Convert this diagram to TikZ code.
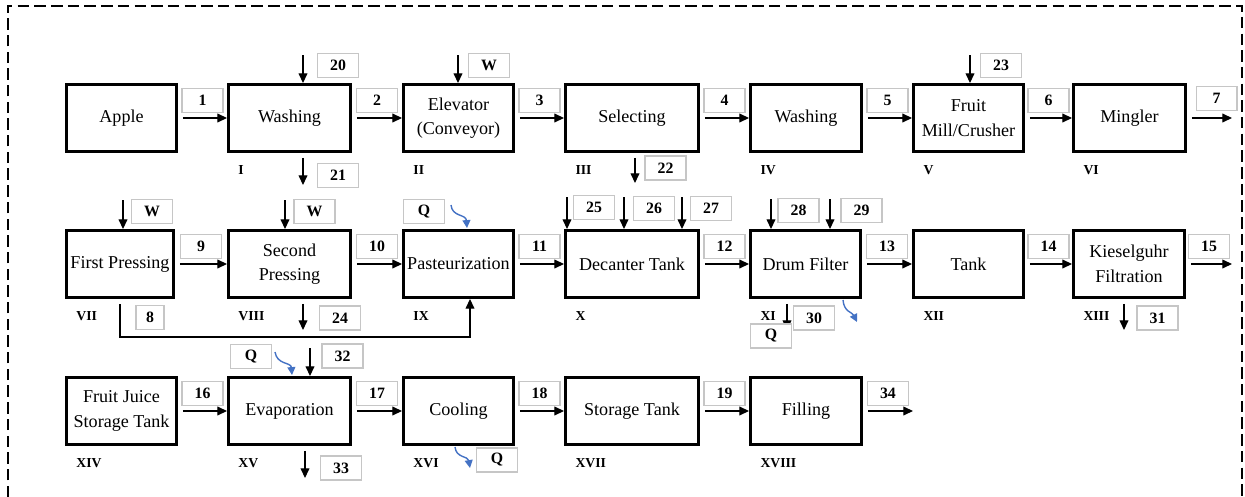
\documentclass[tikz,border=0pt]{standalone}
\usepackage{fontspec}
\setmainfont{Liberation Serif}
\usetikzlibrary{arrows.meta,positioning}
\definecolor{heatblue}{RGB}{68,114,196}

\tikzset{
  proc/.style={draw, line width=1.7pt, minimum height=1.34cm, align=center,
    inner sep=1pt, font=\fontsize{10.3}{14}\selectfont},
  tag/.style={draw=gray!45, line width=0.6pt, fill=white, minimum width=0.82cm,
    minimum height=0.48cm, inner sep=0pt, font=\bfseries\fontsize{9}{10}\selectfont},
  roman/.style={anchor=west, xshift=3pt, yshift=-9.5pt,
    font=\bfseries\fontsize{7.8}{8}\selectfont},
  flow/.style={-{Triangle[length=5.5pt,width=5pt]}, line width=0.7pt},
  heat/.style={-{Triangle[length=4.5pt,width=4.5pt]}, line width=0.8pt, heatblue},
}

\begin{document}
\begin{tikzpicture}[x=0.02cm, y=-0.02cm]
  \useasboundingbox (0,0) rectangle (1245,497);
  \def\rowA{118}
  \def\rowB{264}
  \def\rowC{411}
  % dashed frame
  \draw[line width=1pt, dash pattern=on 6.5pt off 3pt] (8,497) -- (8,6) -- (1242,6) -- (1242,497);

  % first row
  \node[proc, minimum width=2.2cm] (apple) at (121.5,\rowA) {Apple};
  \node[proc, minimum width=2.44cm] (wash1) at (289.5,\rowA) {Washing};
  \node[proc, minimum width=2.2cm] (elev) at (458.5,\rowA) {Elevator\\(Conveyor)};
  \node[proc, minimum width=2.66cm] (select) at (632,\rowA) {Selecting};
  \node[proc, minimum width=2.22cm] (wash2) at (806,\rowA) {Washing};
  \node[proc, minimum width=2.2cm] (mill) at (968.5,\rowA) {Fruit\\Mill/Crusher};
  \node[proc, minimum width=2.24cm] (mingler) at (1129.5,\rowA) {Mingler};
  \coordinate (out7) at (1232,\rowA);

  % second row
  \node[proc, minimum width=2.14cm] (press1) at (120,\rowB) {First Pressing};
  \node[proc, minimum width=2.44cm] (press2) at (289.5,\rowB) {Second\\Pressing};
  \node[proc, minimum width=2.2cm] (pas) at (458.5,\rowB) {Pasteurization};
  \node[proc, minimum width=2.66cm] (decant) at (632,\rowB) {Decanter Tank};
  \node[proc, minimum width=2.2cm] (drum) at (805.5,\rowB) {Drum Filter};
  \node[proc, minimum width=2.2cm] (tank) at (968.5,\rowB) {Tank};
  \node[proc, minimum width=2.22cm] (kiesel) at (1129,\rowB) {Kieselguhr\\Filtration};
  \coordinate (out15) at (1232,\rowB);

  % third row
  \node[proc, minimum width=2.2cm] (juice) at (121.5,\rowC) {Fruit Juice\\Storage Tank};
  \node[proc, minimum width=2.44cm] (evap) at (289.5,\rowC) {Evaporation};
  \node[proc, minimum width=2.2cm] (cool) at (458.5,\rowC) {Cooling};
  \node[proc, minimum width=2.66cm] (store) at (632,\rowC) {Storage Tank};
  \node[proc, minimum width=2.22cm] (fill) at (806,\rowC) {Filling};
  \coordinate (out34) at (913,\rowC);

  % unit numbers
  \foreach \blk/\num in {wash1/I, elev/II, select/III, wash2/IV, mill/V, mingler/VI,
      press1/VII, press2/VIII, pas/IX, decant/X, drum/XI, tank/XII, kiesel/XIII,
      juice/XIV, evap/XV, cool/XVI, store/XVII, fill/XVIII}
    \node[roman] (n-\blk) at (\blk.south west) {\num};

  % main streams
  \draw[flow, shorten <=2.8pt] (apple) -- (wash1) node[tag, midway, above=3pt] (t1) {1};
  \draw[flow, shorten <=2.8pt] (wash1) -- (elev) node[tag, midway, above=3pt] (t2) {2};
  \draw[flow, shorten <=2.8pt] (elev) -- (select) node[tag, midway, above=3pt] (t3) {3};
  \draw[flow, shorten <=2.8pt] (select) -- (wash2) node[tag, midway, above=3pt] (t4) {4};
  \draw[flow, shorten <=2.8pt] (wash2) -- (mill) node[tag, midway, above=3pt] (t5) {5};
  \draw[flow, shorten <=2.8pt] (mill) -- (mingler) node[tag, midway, above=3pt] (t6) {6};
  \draw[flow, shorten <=2.8pt] (mingler) -- (out7) node[tag, midway, above=4pt, xshift=4pt] (t7) {7};
  \draw[flow, shorten <=2.8pt] (press1) -- (press2) node[tag, midway, above=3pt] (t9) {9};
  \draw[flow, shorten <=2.8pt] (press2) -- (pas) node[tag, midway, above=3pt] (t10) {10};
  \draw[flow, shorten <=2.8pt] (pas) -- (decant) node[tag, midway, above=3pt] (t11) {11};
  \draw[flow, shorten <=2.8pt] (decant) -- (drum) node[tag, midway, above=3pt] (t12) {12};
  \draw[flow, shorten <=2.8pt] (drum) -- (tank) node[tag, midway, above=3pt] (t13) {13};
  \draw[flow, shorten <=2.8pt] (tank) -- (kiesel) node[tag, midway, above=3pt] (t14) {14};
  \draw[flow, shorten <=2.8pt] (kiesel) -- (out15) node[tag, midway, above=3pt] (t15) {15};
  \draw[flow, shorten <=2.8pt] (juice) -- (evap) node[tag, midway, above=3pt] (t16) {16};
  \draw[flow, shorten <=2.8pt] (evap) -- (cool) node[tag, midway, above=3pt] (t17) {17};
  \draw[flow, shorten <=2.8pt] (cool) -- (store) node[tag, midway, above=3pt] (t18) {18};
  \draw[flow, shorten <=2.8pt] (store) -- (fill) node[tag, midway, above=3pt] (t19) {19};
  \draw[flow, shorten <=2.8pt] (fill) -- (out34) node[tag, midway, above=3pt] (t34) {34};

  % return stream from first pressing
  \coordinate (ret8) at (470,337);
  \draw[flow, shorten <=3pt] (press1.south) |- (ret8) -- (ret8 |- pas.south);
  \node[tag, minimum width=0.56cm] (t8) at (150,317.5) {8};

  % feeds from above
  \foreach \blk/\x/\ys/\lab/\lx/\ly [count=\i] in {wash1/303/55/20/338/65.5,
      elev/458/55/W/489/65.5, mill/970/55/23/1001/65.5,
      press1/123/200/W/152/211.5, press2/285/200/W/314.5/211.5,
      decant/567/197/25/594/207.5, decant/624/197/26/654/208.5,
      decant/682/197/27/711/208.5, drum/771/199/28/798.5/210.5,
      drum/830/199/29/861.5/210.5, evap/310/348/32/342.5/356} {
    \coordinate (in\i) at (\x,\ys);
    \draw[flow] (in\i) -- (in\i |- \blk.north);
    \node[tag] (f\i) at (\lx,\ly) {\lab};
  }

  % draw-offs below
  \foreach \blk/\x/\ye/\lab/\lx/\ly [count=\i] in {wash1/303/185/21/338/175.5,
      select/635/183/22/665.5/168, press2/303/330/24/340/318,
      drum/787/330/30/814/318, kiesel/1124/330/31/1157.5/318,
      evap/305/478/33/341/468} {
    \coordinate (out\i) at (\x,\ye);
    \draw[flow, shorten <=2.8pt] (out\i |- \blk.south) -- (out\i);
    \node[tag] (d\i) at (\lx,\ly) {\lab};
  }

  % heat
  \node[tag] (qP) at (424,211.5) {Q};
  \node[tag] (qD) at (771,336) {Q};
  \node[tag] (qE) at (251,356.5) {Q};
  \node[tag] (qC) at (497,460) {Q};
  \coordinate (hP) at (451,205);
  \coordinate (hD) at (857,322);
  \coordinate (hE) at (275,352);
  \coordinate (hC) at (470,468);
  \draw[heat] (hP) .. controls (452,217) and (466,214) .. (467,228);
  \draw[heat] (843,300) .. controls (844,312) and (852,312) .. (hD);
  \draw[heat] (hE) .. controls (277,365) and (291,362) .. (292,375);
  \draw[heat] (455,447) .. controls (456,458) and (468,456) .. (hC);
\end{tikzpicture}
\end{document}
